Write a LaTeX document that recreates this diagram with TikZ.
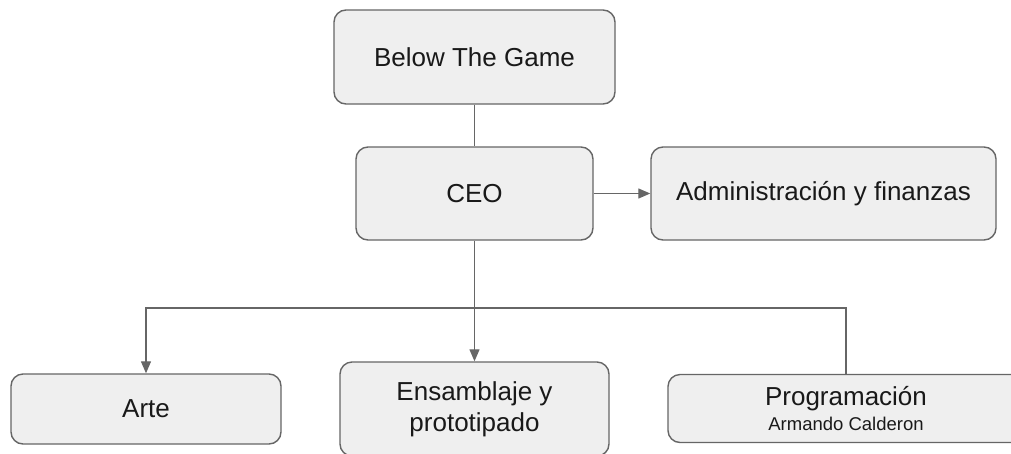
\documentclass[tikz,border=0pt]{standalone}
\usepackage{fontspec}
\setmainfont{Liberation Sans}
\usetikzlibrary{arrows.meta}
\definecolor{boxfill}{HTML}{EFEFEF}
\definecolor{edge}{HTML}{666666}
\begin{document}
\begin{tikzpicture}[x=1pt,y=-1pt,
  box/.style={draw=edge, line width=1.4pt, fill=boxfill, rounded corners=12pt,
    inner sep=0pt, align=center, text=black!90, font=\fontsize{26}{31}\selectfont},
  conn/.style={draw=edge, line width=1.3pt},
  tip/.style={-{Triangle[length=12pt,width=10pt]}}]
\useasboundingbox (0,0) rectangle (1011,453);
\node[box, minimum width=281pt, minimum height=94pt] (btg) at (474.5,57) {Below The Game};
\node[box, minimum width=237pt, minimum height=93pt] (ceo) at (474.5,193.5) {CEO};
\node[box, minimum width=345pt, minimum height=93pt] (adm) at (823.5,193.5) {Administración y finanzas};
\node[box, minimum width=270pt, minimum height=70pt] (arte) at (146,409) {Arte};
\node[box, minimum width=269pt, minimum height=94pt] (ens) at (474.5,409) {Ensamblaje y\\prototipado};
\node[box, minimum width=356pt, minimum height=68pt] (prog) at (846,408.5) {\raisebox{-2pt}{Programación}\\[-4pt]{\fontsize{18.5}{22}\selectfont Armando Calderon}};
\coordinate (j) at (474.5,308);
\draw[conn] (btg.south) -- (ceo.north);
\draw[conn,tip] (ceo.east) -- (adm.west);
\draw[conn,tip] (ceo.south) -- (ens.north);
\draw[conn,tip] (j) -| (arte.north);
\draw[conn] (j) -| (prog.north);
\end{tikzpicture}
\end{document}
